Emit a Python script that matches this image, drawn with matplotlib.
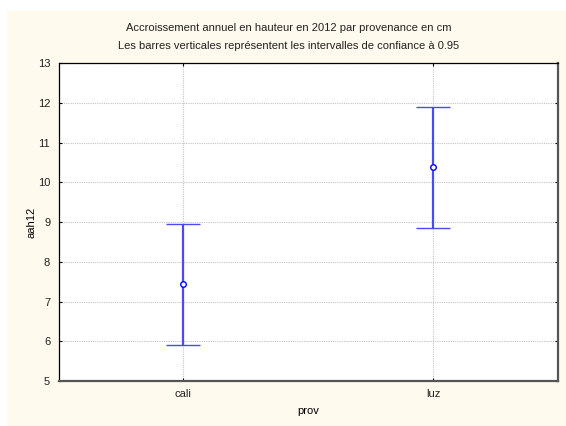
import matplotlib
matplotlib.use("Agg")
import matplotlib.pyplot as plt
from matplotlib.patches import Rectangle

# data
categories = ["cali", "luz"]
means = [7.43, 10.38]
ci_low = [5.91, 8.85]
ci_high = [8.95, 11.90]
y_ticks = [5, 6, 7, 8, 9, 10, 11, 12, 13]

plt.rcParams["font.family"] = ["Liberation Sans", "DejaVu Sans"]
plt.rcParams["text.color"] = "#222222"

W, H = 566, 426
fig = plt.figure(figsize=(W / 100, H / 100), dpi=100, facecolor="white")

# cream panel behind everything
fig.patches.append(Rectangle((7 / W, 0), 1 - 7 / W, 1 - 11 / H,
                             transform=fig.transFigure, facecolor="#fff9ee",
                             edgecolor="none", zorder=-10))

ax = fig.add_axes([58.5 / W, 1 - 381 / H, (558 - 58.5) / W, (381 - 63.3) / H])
ax.set_facecolor("white")

x = list(range(len(categories)))
err_lo = [m - lo for m, lo in zip(means, ci_low)]
err_hi = [hi - m for m, hi in zip(means, ci_high)]

ax.errorbar(x, means, yerr=[err_lo, err_hi], fmt="o", color="#4a4af0",
            ecolor="#4a4af0", elinewidth=1.6, capsize=12.5, capthick=1.4,
            markersize=4, markerfacecolor="white", markeredgecolor="#0000ff",
            markeredgewidth=1.0, zorder=3)

ax.set_xlim(-0.5, 1.5)
ax.set_ylim(5, 13)
ax.set_xticks(x)
ax.set_xticklabels(categories)
ax.set_yticks(y_ticks)
ax.tick_params(direction="in", length=2.5, width=0.8, labelsize=8,
               top=True, right=True, pad=6, colors="black",
               labelcolor="#222222")
ax.tick_params(axis="x", pad=6)

ax.grid(True, color="#c4c4c4", linestyle=(0, (1, 1)), linewidth=0.8)
ax.set_axisbelow(True)

for side in ["top", "left"]:
    ax.spines[side].set_color("black")
    ax.spines[side].set_linewidth(0.9)
for side in ["right", "bottom"]:
    ax.spines[side].set_color("#555555")
    ax.spines[side].set_linewidth(1.6)

ax.set_xlabel("prov", fontsize=8, labelpad=5)
ax.set_ylabel("aah12", fontsize=8)
ax.yaxis.set_label_coords(-22 / 499.5, 0.5)

fig.text(0.51, 1 - 28 / H, "Accroissement annuel en hauteur en 2012 par provenance en cm",
         ha="center", va="center", fontsize=8)
fig.text(0.51, 1 - 46 / H, "Les barres verticales représentent les intervalles de confiance à 0.95",
         ha="center", va="center", fontsize=8)

fig.savefig("out.png", dpi=100, facecolor=fig.get_facecolor())
